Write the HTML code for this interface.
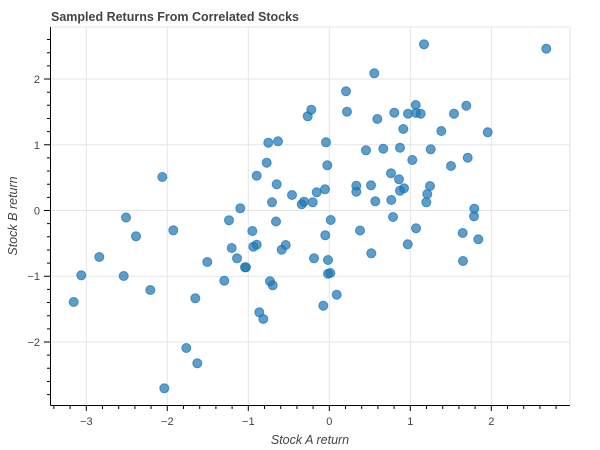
<!DOCTYPE html>
<html><head><meta charset="utf-8"><style>
html,body{margin:0;padding:0;background:#fff;width:600px;height:450px;overflow:hidden}
svg{display:block;font-family:"Liberation Sans",Helvetica,Arial,sans-serif}
</style></head><body>
<svg width="600" height="450" viewBox="0 0 600 450" xmlns="http://www.w3.org/2000/svg">
<rect width="600" height="450" fill="#fff"/>
<text x="51" y="21" font-size="12.5" font-weight="bold" fill="#444">Sampled Returns From Correlated Stocks</text>
<g stroke="#e5e5e5" stroke-width="1">
<line x1="86.3" y1="27" x2="86.3" y2="405"/><line x1="167.3" y1="27" x2="167.3" y2="405"/><line x1="248.3" y1="27" x2="248.3" y2="405"/><line x1="329.3" y1="27" x2="329.3" y2="405"/><line x1="410.3" y1="27" x2="410.3" y2="405"/><line x1="491.3" y1="27" x2="491.3" y2="405"/>
<line x1="51" y1="79" x2="570" y2="79"/><line x1="51" y1="144.75" x2="570" y2="144.75"/><line x1="51" y1="210.5" x2="570" y2="210.5"/><line x1="51" y1="276.25" x2="570" y2="276.25"/><line x1="51" y1="342" x2="570" y2="342"/>
<line x1="51" y1="27" x2="570" y2="27"/><line x1="570" y1="27" x2="570" y2="405"/>
</g>
<g fill="#1f77b4" fill-opacity="0.72" stroke="#1f77b4" stroke-opacity="0.75" stroke-width="1">
<circle cx="126" cy="217.5" r="4.5"/><circle cx="162.3" cy="177" r="4.5"/><circle cx="173.3" cy="230.3" r="4.5"/><circle cx="229" cy="220.3" r="4.5"/><circle cx="240.3" cy="208.3" r="4.5"/><circle cx="252.3" cy="231" r="4.5"/><circle cx="256.7" cy="175.7" r="4.5"/><circle cx="266.7" cy="162.7" r="4.5"/><circle cx="268.3" cy="142.7" r="4.5"/><circle cx="278" cy="141.3" r="4.5"/><circle cx="276.7" cy="184.3" r="4.5"/><circle cx="272" cy="202.3" r="4.5"/><circle cx="276" cy="221.5" r="4.5"/><circle cx="292" cy="195" r="4.5"/><circle cx="301.7" cy="204.3" r="4.5"/><circle cx="304" cy="201.7" r="4.5"/><circle cx="312.7" cy="202.3" r="4.5"/><circle cx="316.7" cy="192.3" r="4.5"/><circle cx="307.7" cy="116.3" r="4.5"/><circle cx="311.3" cy="109.7" r="4.5"/>
<circle cx="424" cy="44.3" r="4.5"/><circle cx="546.3" cy="48.7" r="4.5"/><circle cx="374.3" cy="73.3" r="4.5"/><circle cx="346" cy="91.3" r="4.5"/><circle cx="347" cy="111.7" r="4.5"/><circle cx="377.3" cy="119" r="4.5"/><circle cx="394.3" cy="112.7" r="4.5"/><circle cx="408" cy="113.7" r="4.5"/><circle cx="415.7" cy="105" r="4.5"/><circle cx="416" cy="113" r="4.5"/><circle cx="420.7" cy="113.7" r="4.5"/><circle cx="454" cy="113.7" r="4.5"/><circle cx="466.3" cy="105.7" r="4.5"/><circle cx="403.3" cy="129" r="4.5"/><circle cx="441.3" cy="131" r="4.5"/><circle cx="487.7" cy="132.3" r="4.5"/><circle cx="326" cy="142.3" r="4.5"/><circle cx="366" cy="150.3" r="4.5"/><circle cx="383.3" cy="148.7" r="4.5"/><circle cx="400" cy="147.7" r="4.5"/><circle cx="430.7" cy="149.3" r="4.5"/><circle cx="327.3" cy="165.3" r="4.5"/><circle cx="412.3" cy="160" r="4.5"/><circle cx="451" cy="166" r="4.5"/><circle cx="467.7" cy="157.7" r="4.5"/><circle cx="391" cy="173.3" r="4.5"/><circle cx="399" cy="179.3" r="4.5"/><circle cx="356.3" cy="185.7" r="4.5"/><circle cx="356.3" cy="191.7" r="4.5"/><circle cx="371" cy="185.3" r="4.5"/><circle cx="400" cy="190.7" r="4.5"/><circle cx="404" cy="188.3" r="4.5"/><circle cx="430" cy="186" r="4.5"/><circle cx="427.3" cy="194" r="4.5"/><circle cx="426.3" cy="202.3" r="4.5"/><circle cx="375.3" cy="201.3" r="4.5"/><circle cx="391.3" cy="200" r="4.5"/><circle cx="325" cy="189.3" r="4.5"/><circle cx="474.3" cy="208.7" r="4.5"/><circle cx="474" cy="216.3" r="4.5"/><circle cx="393" cy="217" r="4.5"/><circle cx="330.7" cy="220" r="4.5"/><circle cx="360" cy="230.5" r="4.5"/><circle cx="416" cy="228.3" r="4.5"/>
<circle cx="136" cy="236.3" r="4.5"/><circle cx="99.3" cy="257" r="4.5"/><circle cx="231.7" cy="248" r="4.5"/><circle cx="253.3" cy="246.7" r="4.5"/><circle cx="256.7" cy="244.7" r="4.5"/><circle cx="285.7" cy="245" r="4.5"/><circle cx="281.7" cy="249.7" r="4.5"/><circle cx="207.3" cy="262" r="4.5"/><circle cx="237" cy="258.3" r="4.5"/><circle cx="245" cy="267.3" r="4.5"/><circle cx="246" cy="267.3" r="4.5"/><circle cx="314" cy="258.3" r="4.5"/><circle cx="81.3" cy="275.3" r="4.5"/><circle cx="123.7" cy="276" r="4.5"/><circle cx="224.3" cy="280.7" r="4.5"/><circle cx="270" cy="281.3" r="4.5"/><circle cx="272.7" cy="285.3" r="4.5"/><circle cx="150.3" cy="290" r="4.5"/><circle cx="73.7" cy="302" r="4.5"/><circle cx="195.3" cy="298.3" r="4.5"/><circle cx="259.3" cy="312.3" r="4.5"/><circle cx="263.3" cy="319" r="4.5"/><circle cx="186.3" cy="348" r="4.5"/><circle cx="197.3" cy="363.3" r="4.5"/><circle cx="164.3" cy="388.3" r="4.5"/>
<circle cx="325.3" cy="235.3" r="4.5"/><circle cx="462.7" cy="233" r="4.5"/><circle cx="478.3" cy="239.3" r="4.5"/><circle cx="407.7" cy="244.3" r="4.5"/><circle cx="371.3" cy="253.3" r="4.5"/><circle cx="328" cy="260" r="4.5"/><circle cx="463" cy="261" r="4.5"/><circle cx="328" cy="273.7" r="4.5"/><circle cx="330.3" cy="273" r="4.5"/><circle cx="336.7" cy="294.7" r="4.5"/><circle cx="323.3" cy="305.7" r="4.5"/>
</g>
<g stroke="#000" stroke-width="1" fill="none">
<line x1="50.5" y1="27" x2="50.5" y2="405.5"/>
<line x1="50.5" y1="405.5" x2="570" y2="405.5"/>
<path d="M86.3 405v6M167.3 405v6M248.3 405v6M329.3 405v6M410.3 405v6M491.3 405v6"/>
<path d="M53.9 405v4M70.1 405v4M102.5 405v4M118.7 405v4M134.9 405v4M151.1 405v4M183.5 405v4M199.7 405v4M215.9 405v4M232.1 405v4M264.5 405v4M280.7 405v4M296.9 405v4M313.1 405v4M345.5 405v4M361.7 405v4M377.9 405v4M394.1 405v4M426.5 405v4M442.7 405v4M458.9 405v4M475.1 405v4M507.5 405v4M523.7 405v4M539.9 405v4M556.1 405v4"/>
<path d="M51 79h-7M51 144.75h-7M51 210.5h-7M51 276.25h-7M51 342h-7"/>
<path d="M51 39.55h-4M51 52.7h-4M51 65.85h-4M51 92.2h-4M51 105.3h-4M51 118.5h-4M51 131.6h-4M51 157.9h-4M51 171.05h-4M51 184.2h-4M51 197.35h-4M51 223.65h-4M51 236.8h-4M51 249.95h-4M51 263.1h-4M51 289.4h-4M51 302.55h-4M51 315.7h-4M51 328.85h-4M51 355.15h-4M51 368.3h-4M51 381.45h-4M51 394.6h-4"/>
</g>
<g font-size="11" fill="#444" text-anchor="middle">
<text x="86.3" y="425">−3</text><text x="167.3" y="425">−2</text><text x="248.3" y="425">−1</text><text x="329.3" y="425">0</text><text x="410.3" y="425">1</text><text x="491.3" y="425">2</text>
</g>
<g font-size="11" fill="#444" text-anchor="end">
<text x="40" y="83">2</text><text x="40" y="149">1</text><text x="40" y="214.5">0</text><text x="40" y="280">−1</text><text x="40" y="346">−2</text>
</g>
<text x="310" y="444" font-size="12.5" font-style="italic" fill="#444" text-anchor="middle">Stock A return</text>
<text transform="translate(17,216) rotate(-90)" font-size="12.5" font-style="italic" fill="#444" text-anchor="middle">Stock B return</text>
</svg>
</body></html>
